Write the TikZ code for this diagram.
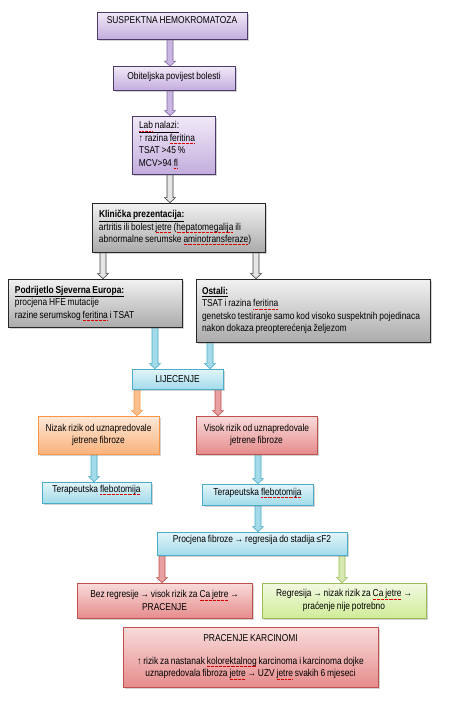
\documentclass[tikz,border=0pt]{standalone}
\usepackage{fontspec}
\setmainfont{Liberation Sans}[FakeStretch=0.84, WordSpace=0.8]
\usetikzlibrary{shadows,backgrounds,calc}
\definecolor{pbord}{HTML}{4B3A6B}
\definecolor{ptop}{HTML}{F1EAF8}
\definecolor{pbot}{HTML}{C4ADDD}
\definecolor{parf}{HTML}{C9B6E2}
\definecolor{pard}{HTML}{8064A2}
\definecolor{gbord}{HTML}{262626}
\definecolor{gtop}{HTML}{F2F2F2}
\definecolor{gbot}{HTML}{ABABAB}
\definecolor{garf}{HTML}{E6E6E6}
\definecolor{gard}{HTML}{404040}
\definecolor{bbord}{HTML}{4BACC6}
\definecolor{btop}{HTML}{E3F5FA}
\definecolor{bbot}{HTML}{A3DBEA}
\definecolor{obord}{HTML}{F79646}
\definecolor{otop}{HTML}{FDE9D9}
\definecolor{obot}{HTML}{F9B27A}
\definecolor{oarf}{HTML}{FAC090}
\definecolor{rbord}{HTML}{C0504D}
\definecolor{rtop}{HTML}{F8DCDB}
\definecolor{rbot}{HTML}{E68C8C}
\definecolor{rarf}{HTML}{E6A0A0}
\definecolor{grbord}{HTML}{9BBB59}
\definecolor{grtop}{HTML}{F2F9E2}
\definecolor{grbot}{HTML}{D0EC98}
\definecolor{grarf}{HTML}{D7E9B0}
\newlength\sqlen
\newcommand\sq[1]{\settowidth\sqlen{#1}\rlap{\color{red!85!black}\raisebox{-2.2pt}{\hbox to\sqlen{\xleaders\hbox{\vrule width 0.9pt height 0.45pt\hskip 0.4pt}\hfill}}}#1}
\newcommand\blockarr[4]{%
  \path[#4] let \p1=(#2.south), \p2=(#3.north), \p3=(#1,0) in
    (\x3-3pt,\y1) -- (\x3+3pt,\y1) -- (\x3+3pt,\y2+5pt) -- (\x3+5.5pt,\y2+5pt) -- (\x3,\y2) -- (\x3-5.5pt,\y2+5pt) -- (\x3-3pt,\y2+5pt) -- cycle;}
\tikzset{
  base/.style={rectangle, line width=0.8pt, inner xsep=7pt, inner ysep=2pt,
    font=\fontsize{10}{12.5}\selectfont,
    drop shadow={shadow xshift=1.5pt, shadow yshift=-1.5pt, opacity=0.35}},
  pbox/.style={base, draw=pbord, top color=ptop, bottom color=pbot},
  gbox/.style={base, draw=gbord, top color=gtop, bottom color=gbot},
  bbox/.style={base, draw=bbord, top color=btop, bottom color=bbot},
  obox/.style={base, draw=obord, top color=otop, bottom color=obot},
  rbox/.style={base, draw=rbord, top color=rtop, bottom color=rbot},
  grbox/.style={base, draw=grbord, top color=grtop, bottom color=grbot},
  parr/.style={fill=parf, draw=pard, line width=0.6pt},
  garr/.style={fill=garf, draw=gard, line width=0.6pt},
  barr/.style={fill=bbot, draw=bbord, line width=0.6pt},
  oarr/.style={fill=oarf, draw=obord, line width=0.6pt},
  rarr/.style={fill=rarf, draw=rbord, line width=0.6pt},
  grarr/.style={fill=grarf, draw=grbord, line width=0.6pt},
}
\begin{document}
\begin{tikzpicture}[x=1pt,y=-1pt]
\useasboundingbox (0,0) rectangle (452,705);

\node[pbox, minimum width=150pt, minimum height=27pt, text height=9.3pt, text depth=13.7pt] (n1) at (172,25.5) {SUSPEKTNA HEMOKROMATOZA};
\node[pbox, minimum width=122pt, minimum height=23.5pt, text height=10.6pt, text depth=8.9pt] (n2) at (174,78.3) {Obiteljska povijest bolesti};
\node[pbox, minimum width=83pt, minimum height=58pt, text width=69pt, align=flush left] (lab) at (173.5,145) {\underline{\sq{Lab} nalazi:}\\ ↑ razina \sq{feritina}\\ TSAT >45 \%\\ MCV>94 \sq{fl}};
\node[gbox, minimum width=173pt, minimum height=49pt, text width=159pt, align=flush left] (kp) at (178.5,227.5) {\underline{\textbf{Klinička prezentacija:}}\\ artritis ili bolest \sq{jetre} (\sq{hepatomegalija} ili\\ abnormalne serumske \sq{aminotransferaze})};
\node[gbox, minimum width=174pt, minimum height=48pt, text width=160pt, align=flush left] (pse) at (95,303) {\underline{\textbf{Podrijetlo Sjeverna Europa:}}\\ procjena HFE mutacije\\ razine serumskog \sq{feritina} i TSAT};
\node[gbox, minimum width=234pt, minimum height=63pt, inner xsep=6pt, text width=222pt, align=flush left] (ost) at (313,310.5) {\underline{\textbf{Ostali:}}\\ TSAT i razina \sq{feritina}\\ \mbox{genetsko testiranje samo kod visoko suspektnih pojedinaca}\\ nakon dokaza preopterećenja željezom};
\node[bbox, minimum width=91pt, minimum height=20pt] (lij) at (177.5,379) {LIJECENJE};
\node[obox, minimum width=121pt, minimum height=38pt, align=center] (niz) at (98.5,435) {Nizak rizik od uznapredovale\\ jetrene fibroze};
\node[rbox, minimum width=121pt, minimum height=38pt, align=center] (vis) at (256.5,435) {Visok rizik od uznapredovale\\ jetrene fibroze};
\node[bbox, minimum width=109pt, minimum height=21pt, text height=8.7pt, text depth=8.3pt] (tfl) at (96.5,492.5) {Terapeutska \sq{flebotomija}};
\node[bbox, minimum width=111pt, minimum height=21pt, text height=9pt, text depth=8pt] (tfr) at (257.5,494.5) {Terapeutska \sq{flebotomija}};
\node[bbox, minimum width=190pt, minimum height=23pt, text height=8.7pt, text depth=10.3pt] (pf) at (252,543.5) {Procjena fibroze → regresija do stadija ≤F2};
\node[rbox, minimum width=175pt, minimum height=35pt, align=center] (bez) at (164.5,600.5) {Bez regresije → visok rizik za \sq{Ca jetre} →\\ PRACENJE};
\node[grbox, minimum width=164pt, minimum height=35pt, align=center] (reg) at (344,600.5) {Regresija → nizak rizik za \sq{Ca jetre} →\\ praćenje nije potrebno};
\node[rbox, minimum width=255pt, minimum height=60pt, align=center] (prk) at (250.5,657) {PRACENJE KARCINOMI\\[10pt] ↑ rizik za nastanak \sq{kolorektalnog} karcinoma i karcinoma dojke\\ uznapredovala fibroza \sq{jetre} → UZV \sq{jetre} svakih 6 mjeseci};

\begin{scope}[on background layer]
\blockarr{170}{n1}{n2}{parr}
\blockarr{170}{n2}{lab}{parr}
\blockarr{170}{lab}{kp}{garr}
\blockarr{103}{kp}{pse}{garr}
\blockarr{256}{kp}{ost}{garr}
\blockarr{155}{pse}{lij}{barr}
\blockarr{210}{ost}{lij}{barr}
\blockarr{137}{lij}{niz}{oarr}
\blockarr{218}{lij}{vis}{rarr}
\blockarr{94}{niz}{tfl}{barr}
\blockarr{258}{vis}{tfr}{barr}
\blockarr{258}{tfr}{pf}{barr}
\blockarr{162}{pf}{bez}{rarr}
\blockarr{342}{pf}{reg}{grarr}
\end{scope}
\end{tikzpicture}
\end{document}
